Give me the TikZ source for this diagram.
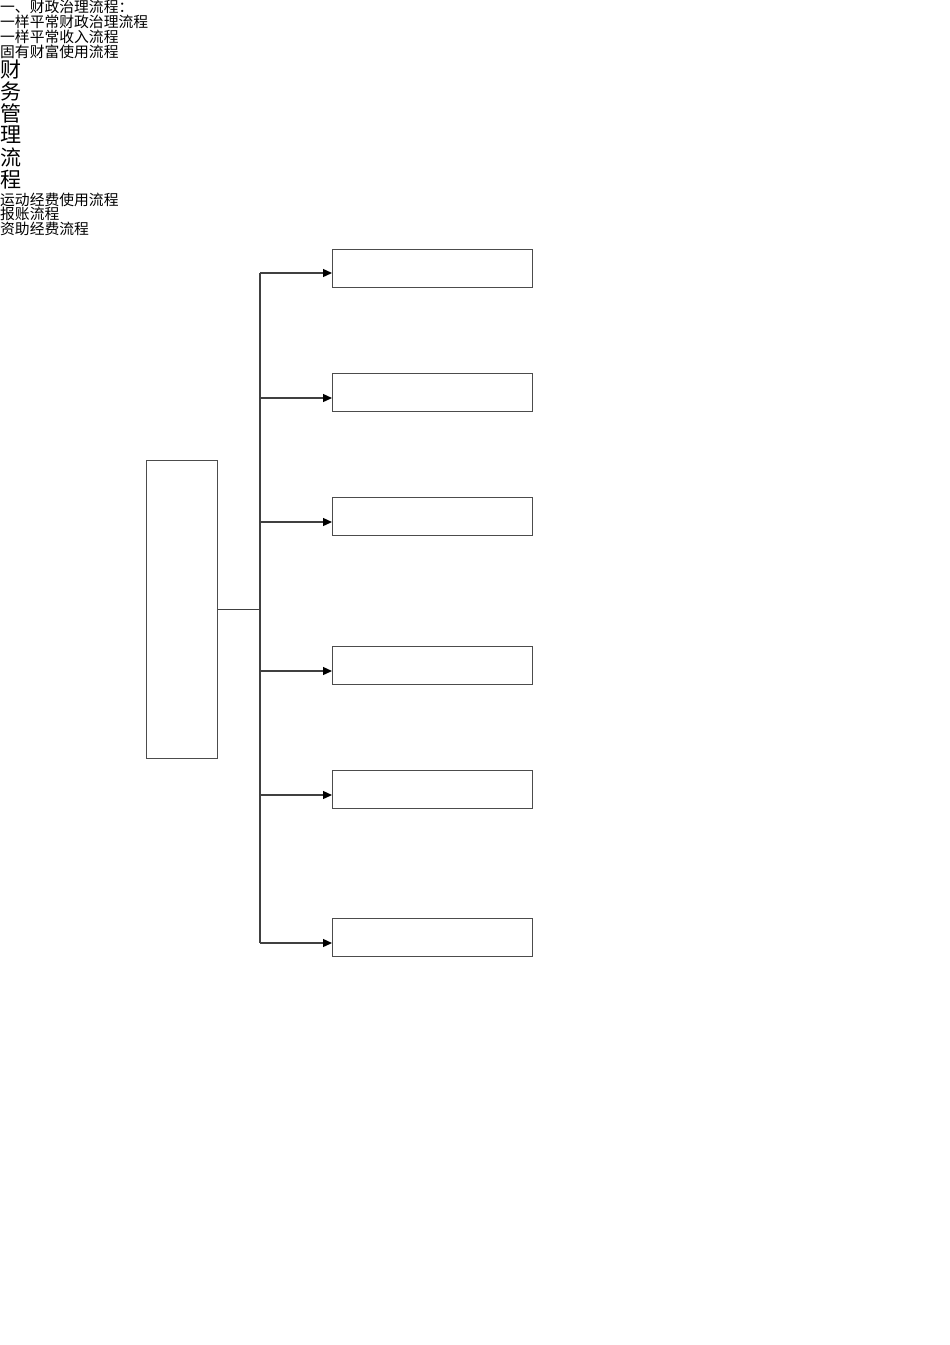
\documentclass[tikz,border=0pt]{standalone}
\usepackage{fontspec}
\usepackage{tikz}
\usetikzlibrary{arrows.meta}
\setmainfont{Noto Sans CJK SC}
\begin{document}
\begin{tikzpicture}[x=1pt,y=-1pt]
\tikzstyle{line}=[draw=black!75,line width=1.3pt]
\tikzstyle{arrow}=[line,-{Triangle[length=9pt,width=8pt,color=black]}]
\tikzstyle{box}=[draw=black!70,line width=1.4pt,rectangle,inner sep=0,minimum width=200pt,minimum height=38pt,anchor=north west]
\tikzstyle{txt}=[inner sep=0,anchor=north west,font=\fontsize{14.8pt}{14.8pt}\selectfont]
\tikzstyle{big}=[inner sep=0,anchor=north west,font=\fontsize{21pt}{22pt}\selectfont]
\useasboundingbox (0,0) rectangle (950,1345);
% text at the top
\node[txt] (h0) at (0,0) {一、财政治理流程：};
\node[txt] (h1) at (0,14.8) {一样平常财政治理流程};
\node[txt] (h2) at (0,29.6) {一样平常收入流程};
\node[txt] (h3) at (0,44.4) {固有财富使用流程};
\node[big] (v1) at (0,60) {财};
\node[big] (v2) at (0,82) {务};
\node[big] (v3) at (0,104) {管};
\node[big] (v4) at (0,126) {理};
\node[big] (v5) at (0,148) {流};
\node[big] (v6) at (0,170) {程};
\node[txt] (h4) at (0,192.5) {运动经费使用流程};
\node[txt] (h5) at (0,207.3) {报账流程};
\node[txt] (h6) at (0,222.1) {资助经费流程};
% boxes
\node[box,minimum width=71pt,minimum height=298pt] (main) at (146,460) {};
\node[box] (b1) at (332,249) {};
\node[box] (b2) at (332,373) {};
\node[box] (b3) at (332,497) {};
\node[box] (b4) at (332,646) {};
\node[box] (b5) at (332,770) {};
\node[box] (b6) at (332,918) {};
% connectors
\coordinate (t1) at (260,273);
\coordinate (t2) at (260,398);
\coordinate (t3) at (260,522);
\coordinate (t4) at (260,671);
\coordinate (t5) at (260,795);
\coordinate (t6) at (260,943);
\draw[line] (t1) -- (t6);
\draw[line] (main.east) -- (main.east -| t1);
\foreach \i in {1,...,6}
    \draw[arrow] (t\i) -- (t\i -| b\i.west);
\end{tikzpicture}
\end{document}
